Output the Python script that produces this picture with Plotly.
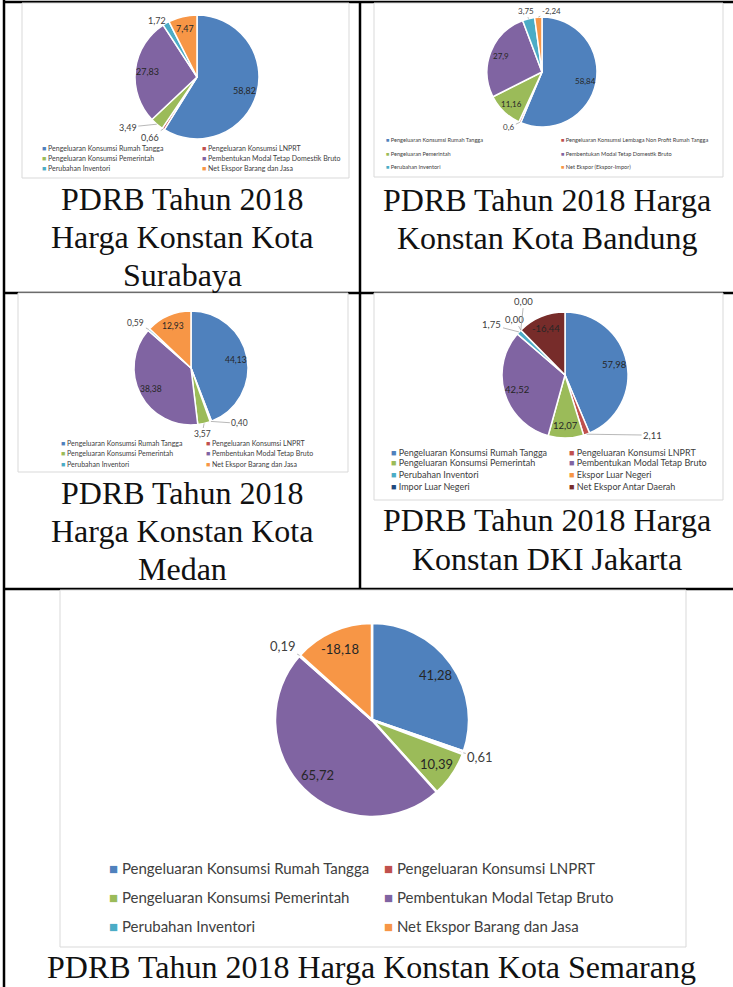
import math
import plotly.graph_objects as go

W, H = 733, 987

# ---------------- data ----------------
# Surabaya
sby_labels = ["Pengeluaran Konsumsi Rumah Tangga", "Pengeluaran Konsumsi LNPRT",
              "Pengeluaran Konsumsi Pemerintah", "Pembentukan Modal Tetap Domestik Bruto",
              "Perubahan Inventori", "Net Ekspor Barang dan Jasa"]
sby_values = [58.82, 0.66, 3.49, 27.83, 1.72, 7.47]

# Bandung
bdg_labels = ["Pengeluaran Konsumsi Rumah Tangga", "Pengeluaran Konsumsi Lembaga Non Profit Rumah Tangga",
              "Pengeluaran Pemerintah", "Pembentukan Modal Tetap Domestik Bruto",
              "Perubahan Inventori", "Net Ekspor (Ekspor-Impor)"]
bdg_values = [58.84, 0.6, 11.16, 27.9, 3.75, -2.24]

# Medan
mdn_labels = ["Pengeluaran Konsumsi Rumah Tangga", "Pengeluaran Konsumsi LNPRT",
              "Pengeluaran Konsumsi Pemerintah", "Pembentukan Modal Tetap Bruto",
              "Perubahan Inventori", "Net Ekspor Barang dan Jasa"]
mdn_values = [44.13, 0.40, 3.57, 38.38, 0.59, 12.93]

# DKI Jakarta
jkt_labels = ["Pengeluaran Konsumsi Rumah Tangga", "Pengeluaran Konsumsi LNPRT",
              "Pengeluaran Konsumsi Pemerintah", "Pembentukan Modal Tetap Bruto",
              "Perubahan Inventori", "Ekspor Luar Negeri",
              "Impor Luar Negeri", "Net Ekspor Antar Daerah"]
jkt_values = [57.98, 2.11, 12.07, 42.52, 1.75, 0.00, 0.00, -16.44]

# Semarang
smg_labels = ["Pengeluaran Konsumsi Rumah Tangga", "Pengeluaran Konsumsi LNPRT",
              "Pengeluaran Konsumsi Pemerintah", "Pembentukan Modal Tetap Bruto",
              "Perubahan Inventori", "Net Ekspor Barang dan Jasa"]
smg_values = [41.28, 0.61, 10.39, 65.72, 0.19, -18.18]

titles = [["PDRB Tahun 2018", "Harga Konstan Kota", "Surabaya"],
          ["PDRB Tahun 2018 Harga", "Konstan Kota Bandung"],
          ["PDRB Tahun 2018", "Harga Konstan Kota", "Medan"],
          ["PDRB Tahun 2018 Harga", "Konstan DKI Jakarta"],
          ["PDRB Tahun 2018 Harga Konstan Kota Semarang"]]

# ---------------- styles ----------------
C6 = ["#4F81BD", "#C0504D", "#9BBB59", "#8064A2", "#4BACC6", "#F79646"]
C8 = C6 + ["#1F497D", "#772C2A"]


def px(x):
    return x / W


def py(y):
    return 1 - y / H


def fmt(v, fixed):
    s = f"{v:.2f}" if fixed else f"{v:g}"
    return s.replace(".", ",")


# label offsets: None = inside label, (dx, dy) = outside label with leader line (pixels)
charts = [
    dict(labels=sby_labels, values=sby_values, colors=C6, fixed=True, c=(197, 77), r=62,
         off=[None, (-13, 8), (-29, 3), None, (-9, -3), None], tsize=9,
         box=(22, 3, 349, 178), leg_x=(40, 200), leg_y=(148, 158, 168), lsize=7,
         cap_x=182, cap_y=(199, 237, 275)),
    dict(labels=bdg_labels, values=bdg_values, colors=C6, fixed=False, c=(542, 72), r=55,
         off=[None, (-11, 5), None, None, (-3, -8), (13, -6)], tsize=8,
         box=(374, 3, 723, 177), leg_x=(384, 559), leg_y=(140, 153, 166), lsize=5.6,
         cap_x=547, cap_y=(200, 238)),
    dict(labels=mdn_labels, values=mdn_values, colors=C6, fixed=True, c=(191, 368), r=57,
         off=[None, (29, 2), (-2, 11), None, (-13, -7), None], tsize=8.5,
         box=(18, 293, 348, 472), leg_x=(59, 204), leg_y=(443, 453, 464), lsize=7,
         cap_x=182, cap_y=(493, 531, 569)),
    dict(labels=jkt_labels, values=jkt_values, colors=C8, fixed=True, c=(565, 375), r=63,
         off=[None, (66, 1), None, None, (-27, -7), (-6, -11), (3, -29), None],
         tsize=9.5, box=(374, 293, 723, 500), leg_x=(389, 567), leg_y=(452, 463, 474, 486),
         lsize=9, cap_x=547, cap_y=(520, 559)),
    dict(labels=smg_labels, values=smg_values, colors=C6, fixed=True, c=(372, 720), r=97,
         off=[None, (17, 4), None, None, (-17, -9), None], tsize=13,
         box=(60, 590, 686, 947), leg_x=(107, 382), leg_y=(868, 897, 926), lsize=15,
         cap_x=371, cap_y=(967,)),
]

fig = go.Figure()
shapes = []
annotations = []

# table borders
black = dict(color="black", width=2.5)
for (x0, y0, x1, y1) in [(3, 2, 733, 2), (4, 0, 4, 987), (360, 2, 360, 589),
                         (4, 293, 733, 293), (4, 589, 733, 589)]:
    shapes.append(dict(type="line", xref="paper", yref="paper", x0=px(x0), y0=py(y0),
                       x1=px(x1), y1=py(y1), line=black, layer="below"))

for i, ch in enumerate(charts):
    bx0, by0, bx1, by1 = ch["box"]
    shapes.append(dict(type="rect", xref="paper", yref="paper", x0=px(bx0), y0=py(by1),
                       x1=px(bx1), y1=py(by0), fillcolor="white",
                       line=dict(color="#D9D9D9", width=1), layer="below"))
    cx, cy = ch["c"]
    r = ch["r"]
    vals = ch["values"]
    sizes = [abs(v) for v in vals]
    texts = [fmt(v, ch["fixed"]) for v in vals]
    fig.add_trace(go.Pie(
        labels=ch["labels"], values=sizes, text=texts, textinfo="none",
        sort=False, direction="clockwise", rotation=0,
        marker=dict(colors=ch["colors"], line=dict(color="white", width=1.5 if r < 90 else 2.5)),
        domain=dict(x=[px(cx - r), px(cx + r)], y=[py(cy + r), py(cy - r)]),
        showlegend=False, hoverinfo="label+text", name=" ".join(titles[i]),
    ))
    # data labels, placed along each slice's mid-angle
    total = sum(sizes)
    cum = 0.0
    for s, t, off in zip(sizes, texts, ch["off"]):
        ang = (cum + s / 2) / total * 2 * math.pi
        cum += s
        sx, sy = math.sin(ang), -math.cos(ang)
        if off is None:
            annotations.append(dict(
                xref="paper", yref="paper", x=px(cx + 0.8 * r * sx), y=py(cy + 0.8 * r * sy),
                xanchor="center", yanchor="middle", showarrow=False, text=t,
                font=dict(family="Lato", size=ch["tsize"], color="#262626")))
        else:
            annotations.append(dict(
                xref="paper", yref="paper", x=px(cx + r * sx), y=py(cy + r * sy),
                ax=off[0], ay=off[1], showarrow=True, arrowhead=0, arrowwidth=0.8,
                arrowcolor="#A6A6A6", standoff=0, text=t,
                font=dict(family="Lato", size=ch["tsize"], color="#404040")))
    # legend entries (two columns)
    for k, (lab, col) in enumerate(zip(ch["labels"], ch["colors"])):
        lx = ch["leg_x"][k % 2]
        ly = ch["leg_y"][k // 2]
        annotations.append(dict(
            xref="paper", yref="paper", x=px(lx), y=py(ly), xanchor="left", yanchor="middle",
            showarrow=False, align="left",
            text=f"<span style='color:{col}'>■</span> {lab}",
            font=dict(family="Lato", size=ch["lsize"], color="#404040")))
    # caption lines
    for line, ly in zip(titles[i], ch["cap_y"]):
        annotations.append(dict(
            xref="paper", yref="paper", x=px(ch["cap_x"]), y=py(ly), xanchor="center",
            yanchor="middle", showarrow=False, text=line,
            font=dict(family="Liberation Serif", size=32, color="#111111")))

fig.update_layout(
    width=W, height=H, autosize=False,
    margin=dict(l=0, r=0, t=0, b=0),
    paper_bgcolor="white", plot_bgcolor="white",
    shapes=shapes, annotations=annotations,
)

fig.write_html("out.html", config={"displayModeBar": False},
               post_script="document.body.style.margin='0';document.body.style.overflow='hidden';")
